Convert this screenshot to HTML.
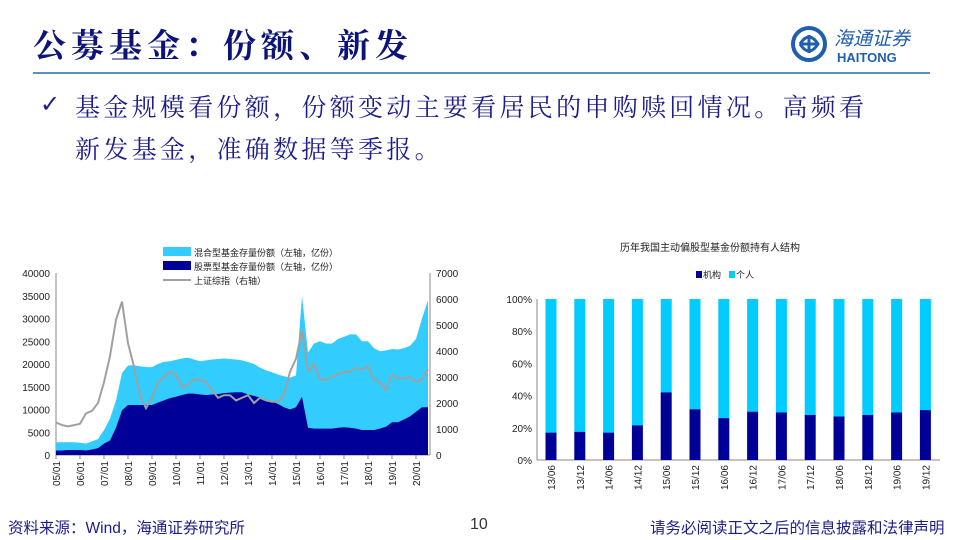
<!DOCTYPE html>
<html><head><meta charset="utf-8">
<style>
body{margin:0;width:960px;height:540px;overflow:hidden;background:#fff;font-family:"Liberation Sans","Noto Sans CJK SC",sans-serif;position:relative}
.abs{position:absolute}
#title{left:33px;top:20px;font:bold 33px "Liberation Serif","Noto Serif CJK SC",serif;color:#0c1478;letter-spacing:5px;white-space:nowrap}
#rule{left:33px;top:72px;width:897px;height:2px;background:#5b8fc7}
.bl{font:25px "Liberation Serif","Noto Serif CJK SC",serif;color:#1c1c8a;letter-spacing:3.3px;white-space:nowrap}
.foot{font:15.5px "Liberation Sans","Noto Sans CJK SC",sans-serif;color:#1c1c8a;white-space:nowrap}
svg text{font-family:"Liberation Sans","Noto Sans CJK SC",sans-serif}
</style></head><body>
<div class="abs" id="title">公募基金：份额、新发</div>
<div class="abs" id="logo" style="left:790px;top:25px;width:140px;height:40px">
<svg width="140" height="40"><circle cx="19" cy="19" r="16" fill="none" stroke="#1f5fae" stroke-width="4"/><path d="M10 19 Q19 5 28 19 Q19 33 10 19 M19 10 L19 28 M10 19 L28 19" fill="none" stroke="#1f5fae" stroke-width="3"/>
<text x="44" y="20" font-size="19" fill="#1f5fae" font-style="italic" font-family="Noto Serif CJK SC,serif">海通证券</text>
<text x="47" y="37" font-size="13" font-weight="bold" fill="#1f5fae">HAITONG</text></svg></div>
<div class="abs" id="rule"></div>
<div class="abs" style="left:40px;top:90px;font:bold 24px 'DejaVu Sans',sans-serif;color:#1c1c8a">✓</div>
<div class="abs bl" style="left:75px;top:88px">基金规模看份额，份额变动主要看居民的申购赎回情况。高频看</div>
<div class="abs bl" style="left:75px;top:130px">新发基金，准确数据等季报。</div>

<svg class="abs" style="left:0;top:230px" width="480" height="260" id="c1"></svg>
<svg class="abs" style="left:480px;top:230px" width="480" height="260" id="c2"></svg>

<div class="abs foot" style="left:8px;top:516px">资料来源：Wind，海通证券研究所</div>
<div class="abs foot" style="left:470px;top:516px;font-size:16px;color:#333">10</div>
<div class="abs foot" style="left:650px;top:516px">请务必阅读正文之后的信息披露和法律声明</div>

<script>
// ===== Chart 1 data (quarterly, 2005Q1..2020Q3) =====
const stockShares=[1000,1000,1100,1100, 1100,1000,1200,1500, 2500,3200,6000,9800, 11000,11000,11000,11000, 11000,11500,12000,12500, 12800,13200,13500,13500, 13300,13200,13300,13400, 13600,13700,13800,13800, 13300,13000,12600,12200, 11800,11200,10500,10000, 10500,12800,6000,5800, 5800,5800,5800,6000, 6100,6000,5800,5500, 5500,5500,5800,6200, 7200,7200,7800,8500, 9500,10500,10500];
const totalShares=[2800,2800,2800,2800, 2700,2500,3000,3500, 5500,8000,12000,18000, 19700,19700,19500,19300, 19300,20000,20500,20600, 20900,21200,21400,21000, 20600,20800,21000,21100, 21200,21100,21000,20800, 20400,20000,19200,18600, 18200,17700,17300,17000, 17500,35000,22500,24500, 25000,24500,24500,25500, 26000,26500,26500,25000, 25000,23500,22800,23000, 23300,23200,23500,24000, 25500,30000,34000];
const shIndex=[1250,1150,1100,1150, 1200,1600,1700,2000, 2800,3800,5200,5900, 4300,3400,2300,1800, 2200,2800,3000,3200, 3100,2600,2700,2900, 2900,2800,2500,2200, 2300,2300,2100,2200, 2300,2000,2200,2100, 2050,2050,2300,3200, 3700,4800,3200,3500, 2900,2900,3000,3100, 3200,3200,3350,3300, 3400,2900,2800,2500, 3100,2950,2950,3000, 2800,2900,3300];
const xLabels1=["05/01","06/01","07/01","08/01","09/01","10/01","11/01","12/01","13/01","14/01","15/01","16/01","17/01","18/01","19/01","20/01"];
const leftTicks=[0,5000,10000,15000,20000,25000,30000,35000,40000];
const rightTicks=[0,1000,2000,3000,4000,5000,6000,7000];

// ===== Chart 2 data =====
const periods=["13/06","13/12","14/06","14/12","15/06","15/12","16/06","16/12","17/06","17/12","18/06","18/12","19/06","19/12"];
const institutional=[17,17.5,17,21.5,42,31.5,26,30,29.5,28,27,28,29.5,31];
const pctTicks=[0,20,40,60,80,100];

const NS="http://www.w3.org/2000/svg";
function mk(p,tag,a){const e=document.createElementNS(NS,tag);for(const k in a)e.setAttribute(k,a[k]);p.appendChild(e);return e;}

(function(){
 const s=document.getElementById('c1');
 const X0=56,Y0=225,H=182;
 const x=i=>X0+i*6;
 const yl=v=>Y0-v/40000*H, yr=v=>Y0-v/7000*H;
 let e=mk(s,'line',{x1:X0,y1:Y0,x2:430,y2:Y0,stroke:'#888'});
 
 mk(s,'line',{x1:X0,y1:43,x2:X0,y2:Y0,stroke:'#888'});
 mk(s,'line',{x1:430,y1:43,x2:430,y2:Y0,stroke:'#888'});
 leftTicks.forEach(v=>{e=mk(s,'text',{x:X0-6,y:yl(v)+4,'text-anchor':'end','font-size':10,fill:'#222'});e.textContent=v;
  });
 rightTicks.forEach(v=>{e=mk(s,'text',{x:436,y:yr(v)+4,'font-size':10,fill:'#222'});e.textContent=v;
  });
 xLabels1.forEach((l,i)=>{const px=X0+i*24;mk(s,'line',{x1:px,y1:Y0,x2:px,y2:Y0+4,stroke:'#888'});
  e=mk(s,'text',{transform:`translate(${px+4},${Y0+6}) rotate(-90)`,'text-anchor':'end','font-size':10,fill:'#222'});e.textContent=l;
  });
 function area(arr,fill,name){let d=`M${x(0)},${Y0}`;arr.forEach((v,i)=>d+=` L${x(i)},${yl(v)}`);d+=` L${x(arr.length-1)},${Y0}Z`;
  const p=mk(s,'path',{d,fill});}
 area(totalShares,'#33ccff','mixed-fund-area');
 area(stockShares,'#000099','stock-fund-area');
 let d='';shIndex.forEach((v,i)=>d+=(i?' L':'M')+x(i)+','+yr(v));
 e=mk(s,'path',{d,fill:'none',stroke:'#a0a0a0','stroke-width':2});
 
 const lg=[['rect','#33ccff','混合型基金存量份额（左轴，亿份）'],['rect','#000099','股票型基金存量份额（左轴，亿份）'],['line','#a0a0a0','上证综指（右轴）']];
 lg.forEach((g,i)=>{const yy=22+i*14;
  if(g[0]=='rect')e=mk(s,'rect',{x:163,y:yy-5,width:28,height:9,fill:g[1]});else e=mk(s,'line',{x1:163,y1:yy,x2:191,y2:yy,stroke:g[1],'stroke-width':2});
  
  e=mk(s,'text',{x:194,y:yy+4,'font-size':9,fill:'#222'});e.textContent=g[2];
  });
})();

(function(){
 const s=document.getElementById('c2');
 const Y0=230,H=161,X0=71,step=28.8,bw=11;
 const y=v=>Y0-v/100*H;
 let e=mk(s,'text',{x:230,y:21,'text-anchor':'middle','font-size':10,fill:'#222'});e.textContent='历年我国主动偏股型基金份额持有人结构';
 
 e=mk(s,'rect',{x:216,y:41,width:6,height:7,fill:'#000099'});
 e=mk(s,'text',{x:223,y:48,'font-size':9,fill:'#222'});e.textContent='机构';
 e=mk(s,'rect',{x:249,y:41,width:6,height:7,fill:'#00ccff'});
 e=mk(s,'text',{x:256,y:48,'font-size':9,fill:'#222'});e.textContent='个人';
 mk(s,'line',{x1:57,y1:Y0,x2:460,y2:Y0,stroke:'#888'});
 mk(s,'line',{x1:57,y1:y(100),x2:57,y2:Y0,stroke:'#888'});
 pctTicks.forEach(v=>{e=mk(s,'text',{x:52,y:y(v)+4,'text-anchor':'end','font-size':10,fill:'#222'});e.textContent=v+'%';
  });
 periods.forEach((p,i)=>{const cx=X0+i*step;
  e=mk(s,'rect',{x:cx-bw/2,y:y(100),width:bw,height:y(institutional[i])-y(100),fill:'#00ccff'});
  
  e=mk(s,'rect',{x:cx-bw/2,y:y(institutional[i]),width:bw,height:Y0-y(institutional[i]),fill:'#000099'});
  
  e=mk(s,'text',{transform:`translate(${cx+4},${Y0+5}) rotate(-90)`,'text-anchor':'end','font-size':10,fill:'#222'});e.textContent=p;
  });
})();
</script>
</body></html>
